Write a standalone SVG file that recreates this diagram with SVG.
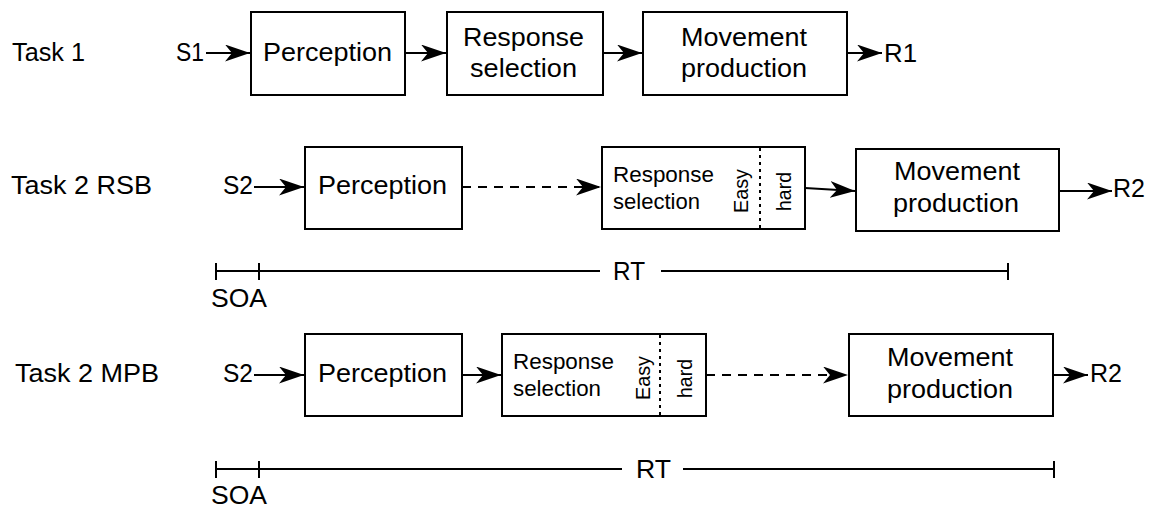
<svg xmlns="http://www.w3.org/2000/svg" width="1153" height="508" viewBox="0 0 1153 508">
<style>
text{font-family:"Liberation Sans",Arial,Helvetica,sans-serif;fill:#000}
.big{font-size:25px}
.mid{font-size:22px}
.sm{font-size:20px}
.box{fill:#fff;stroke:#000;stroke-width:2}
.ln{fill:none;stroke:#000;stroke-width:2}
.dash{fill:none;stroke:#000;stroke-width:2;stroke-dasharray:9 7}
.dot{fill:none;stroke:#000;stroke-width:2;stroke-dasharray:3 4}
</style>
<defs>
<marker id="ah" markerUnits="userSpaceOnUse" viewBox="0 0 25 17" refX="25" refY="8.5" markerWidth="25" markerHeight="17" orient="auto">
<path d="M0,0 L25,8.5 L0,17 L7,8.5 z" fill="#000"/>
</marker>
</defs>

<g id="labels">
<text class="big" x="12" y="61" textLength="73" lengthAdjust="spacingAndGlyphs">Task 1</text>
<text class="big" x="11" y="194" textLength="141" lengthAdjust="spacingAndGlyphs">Task 2 RSB</text>
<text class="big" x="15" y="382" textLength="144" lengthAdjust="spacingAndGlyphs">Task 2 MPB</text>
<text class="big" x="176" y="61" textLength="28" lengthAdjust="spacingAndGlyphs">S1</text>
<text class="big" x="223" y="194" textLength="30" lengthAdjust="spacingAndGlyphs">S2</text>
<text class="big" x="223" y="382" textLength="30" lengthAdjust="spacingAndGlyphs">S2</text>
<text class="big" x="884" y="62" textLength="33" lengthAdjust="spacingAndGlyphs">R1</text>
<text class="big" x="1113" y="197" textLength="32" lengthAdjust="spacingAndGlyphs">R2</text>
<text class="big" x="1090" y="382" textLength="32" lengthAdjust="spacingAndGlyphs">R2</text>
</g>

<g id="t1-perception">
<rect class="box" x="251" y="12" width="154" height="83"/>
<text class="big" x="263" y="61" textLength="129" lengthAdjust="spacingAndGlyphs">Perception</text>
</g>
<g id="t1-response">
<rect class="box" x="447" y="12" width="156" height="83"/>
<text class="big" x="463" y="46" textLength="121" lengthAdjust="spacingAndGlyphs">Response</text>
<text class="big" x="470" y="77" textLength="107" lengthAdjust="spacingAndGlyphs">selection</text>
</g>
<g id="t1-movement">
<rect class="box" x="643" y="12" width="204" height="83"/>
<text class="big" x="681" y="46" textLength="126" lengthAdjust="spacingAndGlyphs">Movement</text>
<text class="big" x="681" y="77" textLength="126" lengthAdjust="spacingAndGlyphs">production</text>
</g>

<g id="rsb-perception">
<rect class="box" x="305" y="147" width="157" height="82"/>
<text class="big" x="318" y="194" textLength="129" lengthAdjust="spacingAndGlyphs">Perception</text>
</g>
<g id="rsb-response">
<rect class="box" x="602" y="147" width="203" height="82"/>
<line class="dot" x1="760" y1="148" x2="760" y2="228"/>
<text class="mid" x="613" y="182" textLength="101" lengthAdjust="spacingAndGlyphs">Response</text>
<text class="mid" x="613" y="209" textLength="87" lengthAdjust="spacingAndGlyphs">selection</text>
<text class="sm" transform="translate(748,213) rotate(-90)" textLength="44" lengthAdjust="spacingAndGlyphs">Easy</text>
<text class="sm" transform="translate(791,211) rotate(-90)" textLength="39" lengthAdjust="spacingAndGlyphs">hard</text>
</g>
<g id="rsb-movement">
<rect class="box" x="856" y="149" width="203" height="82"/>
<text class="big" x="894" y="180" textLength="126" lengthAdjust="spacingAndGlyphs">Movement</text>
<text class="big" x="893" y="212" textLength="126" lengthAdjust="spacingAndGlyphs">production</text>
</g>

<g id="mpb-perception">
<rect class="box" x="305" y="334" width="157" height="82"/>
<text class="big" x="318" y="382" textLength="129" lengthAdjust="spacingAndGlyphs">Perception</text>
</g>
<g id="mpb-response">
<rect class="box" x="502" y="334" width="204" height="82"/>
<line class="dot" x1="660" y1="335" x2="660" y2="415"/>
<text class="mid" x="513" y="369" textLength="101" lengthAdjust="spacingAndGlyphs">Response</text>
<text class="mid" x="513" y="396" textLength="88" lengthAdjust="spacingAndGlyphs">selection</text>
<text class="sm" transform="translate(650,400) rotate(-90)" textLength="44" lengthAdjust="spacingAndGlyphs">Easy</text>
<text class="sm" transform="translate(691.5,398) rotate(-90)" textLength="39" lengthAdjust="spacingAndGlyphs">hard</text>
</g>
<g id="mpb-movement">
<rect class="box" x="849" y="334" width="204" height="82"/>
<text class="big" x="887" y="366" textLength="126" lengthAdjust="spacingAndGlyphs">Movement</text>
<text class="big" x="887" y="398" textLength="126" lengthAdjust="spacingAndGlyphs">production</text>
</g>

<g id="connectors">
<line class="ln" x1="206" y1="53" x2="250" y2="53" marker-end="url(#ah)"/>
<line class="ln" x1="405" y1="53" x2="446" y2="53" marker-end="url(#ah)"/>
<line class="ln" x1="603" y1="53" x2="642" y2="53" marker-end="url(#ah)"/>
<line class="ln" x1="847" y1="53" x2="882" y2="53" marker-end="url(#ah)"/>

<line class="ln" x1="254" y1="187" x2="304" y2="187" marker-end="url(#ah)"/>
<line class="dash" x1="462" y1="187" x2="601" y2="187" marker-end="url(#ah)"/>
<line class="ln" x1="805" y1="188" x2="855" y2="191" marker-end="url(#ah)"/>
<line class="ln" x1="1059" y1="191" x2="1112" y2="191" marker-end="url(#ah)"/>

<line class="ln" x1="254" y1="375" x2="304" y2="375" marker-end="url(#ah)"/>
<line class="ln" x1="462" y1="375" x2="501" y2="375" marker-end="url(#ah)"/>
<line class="dash" x1="706" y1="375" x2="848" y2="375" marker-end="url(#ah)"/>
<line class="ln" x1="1053" y1="375" x2="1088" y2="375" marker-end="url(#ah)"/>
</g>

<g id="timeline-rsb">
<line class="ln" x1="216" y1="271" x2="600" y2="271"/>
<line class="ln" x1="661" y1="271" x2="1008" y2="271"/>
<line class="ln" x1="216" y1="263" x2="216" y2="280"/>
<line class="ln" x1="259" y1="263" x2="259" y2="280"/>
<line class="ln" x1="1008" y1="263" x2="1008" y2="280"/>
<text class="big" x="613" y="280" textLength="32" lengthAdjust="spacingAndGlyphs">RT</text>
<text class="big" x="211" y="307" textLength="56" lengthAdjust="spacingAndGlyphs">SOA</text>
</g>
<g id="timeline-mpb">
<line class="ln" x1="216" y1="469" x2="622" y2="469"/>
<line class="ln" x1="683" y1="469" x2="1054" y2="469"/>
<line class="ln" x1="216" y1="461" x2="216" y2="478"/>
<line class="ln" x1="259" y1="461" x2="259" y2="478"/>
<line class="ln" x1="1054" y1="461" x2="1054" y2="478"/>
<text class="big" x="636" y="478" textLength="35" lengthAdjust="spacingAndGlyphs">RT</text>
<text class="big" x="211" y="504" textLength="56" lengthAdjust="spacingAndGlyphs">SOA</text>
</g>
</svg>
